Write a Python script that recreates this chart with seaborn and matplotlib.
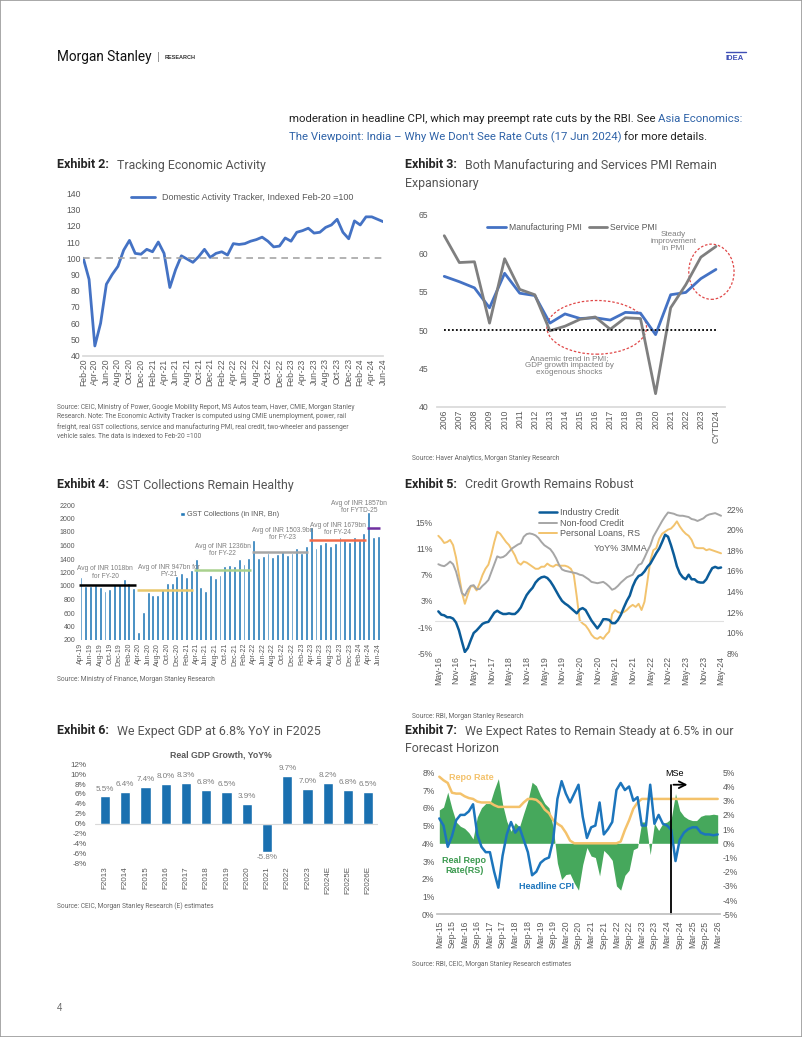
import numpy as np
import pandas as pd
import matplotlib
matplotlib.use("Agg")
import matplotlib.pyplot as plt
import seaborn as sns
from matplotlib.patches import Ellipse, Rectangle
from matplotlib.lines import Line2D

W, H = 802, 1037
GREY = "#595959"
LGREY = "#7F7F7F"

# ---------------- data ----------------
tracker = [100, 87, 46, 60, 84, 90, 95, 105, 111, 103,
           102.5, 105.5, 104, 110, 103, 82, 93, 101.5, 99.5, 97.5,
           101, 105.5, 100.5, 103, 104, 102, 109, 108.5, 109, 110.5,
           111.5, 113, 110.5, 107, 107.5, 112.5, 110.5, 116, 117, 118.5,
           115.5, 116, 119, 120.5, 124, 116, 112, 123, 120.5, 125.5,
           125.5, 124, 122.5]
tracker_months = pd.date_range("2020-02-01", periods=len(tracker), freq="MS").strftime("%b-%y")

pmi_years = ["2006", "2007", "2008", "2009", "2010", "2011", "2012", "2013", "2014", "2015",
             "2016", "2017", "2018", "2019", "2020", "2021", "2022", "2023", "CYTD24"]
mfg_pmi = [57.0, 56.3, 55.5, 52.9, 57.4, 54.8, 54.5, 50.9, 52.1, 51.5,
           51.6, 51.3, 52.3, 52.2, 49.4, 54.6, 54.9, 56.7, 57.9]
svc_pmi = [62.3, 58.8, 58.9, 50.9, 59.3, 55.3, 54.6, 49.9, 50.5, 51.4,
           51.7, 50.1, 51.6, 51.5, 41.7, 52.9, 55.9, 59.5, 60.9]

gst = [1130, 1000, 1000, 1020, 980, 920, 950, 1030, 1030, 1100, 1050, 975,
       320, 620, 910, 870, 865, 950, 1050, 1050, 1150, 1200, 1130, 1240,
       1395, 980, 925, 1165, 1120, 1170, 1300, 1315, 1295, 1405, 1330, 1420,
       1675, 1410, 1445, 1490, 1435, 1475, 1515, 1460, 1495, 1560, 1495, 1600,
       1870, 1570, 1615, 1650, 1590, 1630, 1720, 1680, 1650, 1725, 1680, 1780,
       2100, 1730, 1740]
gst_months = pd.date_range("2019-04-01", periods=len(gst), freq="MS").strftime("%b-%y")
fy_avg = [1018, 947, 1236, 1503.9, 1679, 1857]
fy_span = [(0, 11), (12, 23), (24, 35), (36, 47), (48, 59), (60, 62)]
fy_colors = ["#000000", "#E9C86C", "#A9D18E", "#A6A6A6", "#F26B4A", "#7030A0"]
fy_text = ["Avg of INR 1018bn\nfor FY-20", "Avg of INR 947bn for\nFY-21",
           "Avg of INR 1236bn\nfor FY-22", "Avg of INR 1503.9bn\nfor FY-23",
           "Avg of INR 1679bn\nfor FY-24", "Avg of INR 1857bn\nfor FYTD-25"]
fy_text_pos = [(5.0, 1200), (18.3, 1225), (29.6, 1535), (42.0, 1770), (53.5, 1845), (58.0, 2170)]

industry = [1.4, 0.9, 0.8, 0.5, 0.5, 0.3, -0.3, -1.5, -3.2, -4.8, -4.2, -3.0,
            -1.9, -1.5, -1.0, -0.5, -0.3, -0.2, 0.5, 1.2, 1.5, 1.2, 1.0, 1.0,
            1.1, 1.0, 1.0, 1.4, 2.0, 3.0, 3.9, 4.5, 5.0, 5.8, 6.3, 6.6,
            6.7, 6.5, 6.0, 5.3, 4.5, 3.7, 3.0, 2.6, 2.3, 1.9, 1.5, 1.1,
            1.7, 1.9, 1.6, 0.8, 0.0, -0.6, -1.2, -0.6, 0.2, 0.2, 0.1, -0.4,
            -0.4, 0.1, 0.9, 2.0, 3.0, 3.8, 5.2, 6.2, 6.8, 7.0, 7.5, 8.2,
            8.7, 9.5, 10.3, 11.0, 12.0, 13.1, 12.8, 11.5, 10.0, 8.3, 7.2, 6.6,
            6.3, 7.0, 6.3, 6.3, 5.9, 5.8, 5.8, 6.3, 7.2, 8.0, 8.2, 8.0,
            8.1]
nonfood = [8.6, 8.4, 8.3, 8.6, 9.0, 8.6, 7.5, 5.8, 4.2, 3.8, 4.7, 5.3,
           5.4, 4.8, 4.8, 5.3, 5.7, 6.2, 7.4, 8.6, 9.8, 9.6, 9.7, 10.0,
           10.5, 11.0, 11.3, 11.6, 11.8, 12.8, 13.2, 13.3, 13.2, 13.0, 12.6, 12.0,
           11.5, 11.2, 10.9, 10.3, 9.5, 8.5, 7.8, 7.6, 7.5, 7.4, 7.3, 7.2,
           7.0, 6.9, 6.6, 6.3, 5.9, 5.8, 5.7, 5.8, 5.9, 5.6, 5.2, 4.7,
           4.9, 5.3, 5.8, 6.2, 6.6, 6.8, 7.0, 7.8, 8.5, 8.7, 9.6, 10.6,
           11.5, 12.8, 13.6, 14.4, 15.2, 15.9, 16.5, 16.4, 16.3, 16.1, 16.0, 16.0,
           15.9, 15.8, 15.5, 15.4, 15.2, 15.4, 15.6, 16.0, 16.2, 16.3, 16.4, 16.2,
           16.0]
personal = [19.4, 19.1, 18.7, 18.8, 19.0, 18.5, 17.3, 15.6, 13.9, 12.8, 13.7, 14.5,
            14.5, 14.1, 14.8, 15.6, 16.2, 16.6, 17.6, 18.8, 19.8, 19.6, 19.2, 18.8,
            18.5, 18.0, 17.5, 16.8, 16.6, 16.9, 16.8, 16.6, 16.4, 16.2, 16.2, 16.4,
            16.4, 16.7, 16.5, 16.4, 16.6, 16.5, 16.5, 16.5, 16.4, 16.2, 15.6, 13.5,
            11.2, 10.9, 10.7, 10.3, 9.8, 9.5, 9.4, 9.6, 9.4, 9.8, 10.1, 11.8,
            12.2, 12.0, 11.9, 12.0, 12.2, 12.5, 12.7, 12.5, 12.8, 12.2, 13.0, 15.0,
            17.0, 18.0, 18.2, 19.1, 19.6, 19.8, 20.0, 20.1, 20.4, 20.8, 20.3, 19.9,
            19.6, 19.4, 19.0, 18.3, 18.2, 18.2, 18.2, 18.0, 18.1, 18.0, 17.9, 17.8,
            17.7]
credit_months = pd.date_range("2016-05-01", periods=len(industry), freq="MS").strftime("%b-%y")

gdp_years = ["F2013", "F2014", "F2015", "F2016", "F2017", "F2018", "F2019",
             "F2020", "F2021", "F2022", "F2023", "F2024E", "F2025E", "F2026E"]
gdp = [5.5, 6.4, 7.4, 8.0, 8.3, 6.8, 6.5, 3.9, -5.8, 9.7, 7.0, 8.2, 6.8, 6.5]

# bi-monthly from Mar-15 to Mar-26
cpi = [5.4, 5.0, 3.8, 4.4, 5.3, 5.6, 5.6, 5.8, 6.2, 4.5,
       3.8, 3.5, 3.5, 2.4, 1.5, 3.3, 4.5, 5.2, 4.6, 4.9,
       4.2, 3.5, 2.2, 2.4, 2.9, 3.1, 3.2, 4.2, 6.5, 7.5,
       6.8, 6.3, 6.8, 7.3, 5.5, 4.3, 4.9, 5.0, 6.3, 4.5,
       4.8, 5.2, 7.0, 7.4, 7.0, 7.2, 6.4, 6.6, 5.0, 5.0,
       7.3, 5.1, 5.6, 5.1, 5.0, 4.75, 3.0, 4.2, 4.6, 4.8,
       4.9, 4.9, 4.6, 4.5, 4.5, 4.45, 4.5]
repo = [7.75, 7.55, 7.4, 6.85, 6.8, 6.8, 6.65, 6.55, 6.5, 6.35,
        6.3, 6.3, 6.3, 6.15, 6.05, 6.05, 6.05, 6.05, 6.05, 6.05,
        6.3, 6.5, 6.5, 6.45, 6.25, 5.9, 5.7, 5.3, 5.1, 4.95,
        4.6, 4.15, 4.0, 4.0, 4.0, 4.0, 4.0, 4.0, 4.0, 4.0,
        4.0, 4.0, 4.0, 4.1, 4.75, 5.3, 5.95, 6.3, 6.5, 6.5,
        6.5, 6.5, 6.5, 6.5, 6.5, 6.5, 6.5, 6.5, 6.5, 6.5,
        6.5, 6.5, 6.5, 6.5, 6.5, 6.5, 6.5]
rate_months = pd.date_range("2015-03-01", "2026-03-01", freq="MS").strftime("%b-%y")
mse_month = 110  # May-24, start of forecasts

# ---------------- figure ----------------
sns.set_theme(style="white")
plt.rcParams["font.family"] = ["Liberation Sans", "DejaVu Sans"]
plt.rcParams["axes.unicode_minus"] = False
COND = ["Roboto", "DejaVu Sans"]

fig = plt.figure(figsize=(W / 100, H / 100), dpi=100)
fig.patch.set_facecolor("white")
renderer = fig.canvas.get_renderer()


def px_ax(x0, y0, x1, y1):
    return fig.add_axes([x0 / W, 1 - y1 / H, (x1 - x0) / W, (y1 - y0) / H])


def ftext(x, y, s, **kw):
    kw.setdefault("va", "center")
    return fig.text(x / W, 1 - y / H, s, **kw)


def seq_text(x, y, parts, **kw):
    # draw coloured pieces one after the other on the same line
    probe = ftext(0, 0, "a a", **kw)
    gap = probe.get_window_extent(renderer).width
    probe.set_text("aa")
    gap -= probe.get_window_extent(renderer).width
    probe.remove()
    for s, c in parts:
        t = ftext(x, y, s, color=c, **kw)
        x += t.get_window_extent(renderer).width + gap


def clean(ax, size=6.2):
    for s in ax.spines.values():
        s.set_visible(False)
    ax.tick_params(length=0, labelsize=size, colors=GREY, pad=2)
    ax.set_xlabel("")
    ax.set_ylabel("")
    ax.grid(False)


TITLE_KW = dict(family=COND, fontsize=8.9, color="#555555")


def title(x, y, num, text):
    ftext(x, y, f"Exhibit {num}:", family=COND, fontsize=9.0, weight="bold", color="#262626")
    ftext(x + 60, y, text, **TITLE_KW)


def source(x, y, lines, step=10.5):
    for i, ln in enumerate(lines):
        ftext(x, y + i * step, ln, family="Roboto", fontsize=4.8, color="#666666")


# header
fig.add_artist(Rectangle((0, 0), 1, 1, transform=fig.transFigure, fill=False, ec="#9A9A9A", lw=1.2))
ftext(57, 57, "Morgan Stanley", family=COND, fontsize=9.8, color="#111111")
ftext(157.5, 57, "|", fontsize=8, color="#888888")
ftext(165, 57.5, "RESEARCH", fontsize=4.0, weight="bold", color="#333333")
ftext(726, 58.5, "IDEA", fontsize=5.5, weight="bold", color="#3F4FB5")
fig.add_artist(Line2D([726 / W, 746 / W], [1 - 52 / H, 1 - 52 / H], color="#3F4FB5", lw=1))

BLUE_TXT = "#2F63A8"
BODY = dict(family=COND, fontsize=8.2)
seq_text(289, 119, [("moderation in headline CPI, which may preempt rate cuts by the RBI. See", "#222222"),
                    ("Asia Economics:", BLUE_TXT)], **BODY)
seq_text(289, 137, [("The Viewpoint: India \u2013 Why We Don't See Rate Cuts (17 Jun 2024)", BLUE_TXT),
                    ("for more details.", "#222222")], **BODY)

# ---------------- Exhibit 2 ----------------
title(57, 165, 2, "Tracking Economic Activity")
ax = px_ax(83.3, 193.3, 383.3, 355.7)
sns.lineplot(x=np.arange(len(tracker)), y=tracker, color="#4472C4", lw=2, ax=ax,
             label="Domestic Activity Tracker, Indexed Feb-20 =100")
ax.axhline(100, color="#A6A6A6", ls=(0, (4, 3)), lw=1.2)
clean(ax)
ax.spines["bottom"].set_visible(True)
ax.spines["bottom"].set_color("#D9D9D9")
ax.set_xlim(0, len(tracker) - 1)
ax.set_ylim(40, 140)
ax.set_yticks(range(40, 141, 10))
ax.set_xticks(range(0, len(tracker), 2))
ax.set_xticklabels(tracker_months[::2], rotation=90)
leg = ax.legend(loc="upper center", bbox_to_anchor=(0.53, 1.05), frameon=False, fontsize=6.5,
                handlelength=2.6)
for t in leg.get_texts():
    t.set_color(GREY)
source(57, 407, ["Source: CEIC, Ministry of Power, Google Mobility Report, MS Autos team, Haver, CMIE, Morgan Stanley",
                 "Research. Note: The Economic Activity Tracker is computed using CMIE unemployment, power, rail",
                 "freight, real GST collections, service and manufacturing PMI, real credit, two-wheeler and passenger",
                 "vehicle sales. The data is indexed to Feb-20 =100"], step=10)

# ---------------- Exhibit 3 ----------------
title(405, 165, 3, "Both Manufacturing and Services PMI Remain")
ftext(405, 183, "Expansionary", **TITLE_KW)
ax = px_ax(436.7, 215, 725, 406.7)
xp = np.arange(len(pmi_years))
sns.lineplot(x=xp, y=mfg_pmi, color="#4472C4", lw=2, ax=ax, label="Manufacturing PMI")
sns.lineplot(x=xp, y=svc_pmi, color="#7F7F7F", lw=2, ax=ax, label="Service PMI")
ax.hlines(50, 0, len(pmi_years) - 1, color="black", ls=(0, (1, 1.2)), lw=1.3)
clean(ax)
ax.spines["bottom"].set_visible(True)
ax.spines["bottom"].set_color("#D9D9D9")
ax.set_xlim(-0.5, len(pmi_years) - 0.4)
ax.set_ylim(40, 65)
ax.set_yticks(range(40, 66, 5))
ax.tick_params(axis="y", pad=6)
ax.set_xticks(xp)
ax.set_xticklabels(pmi_years, rotation=90)
leg = ax.legend(loc="upper center", bbox_to_anchor=(0.47, 1.0), ncol=2, frameon=False, fontsize=6.2,
                handlelength=2.2, columnspacing=0.8, handletextpad=0.3)
for t in leg.get_texts():
    t.set_color(GREY)
for (cx, cy, w, h) in [(10.1, 50.35, 6.6, 7.0), (17.7, 57.6, 3.0, 7.2)]:
    ax.add_patch(Ellipse((cx, cy), w, h, fill=False, ec="#E04848", ls=(0, (2, 1.5)), lw=0.9, clip_on=False))
ax.text(15.2, 61.5, "Steady\nimprovement\nin PMI", ha="center", va="center", fontsize=5.8, color=LGREY,
        linespacing=1.0)
ax.text(8.3, 45.4, "Anaemic trend in PMI;\nGDP growth impacted by\nexogenous shocks", ha="center",
        va="center", fontsize=5.8, color=LGREY, linespacing=1.0)
source(412, 459, ["Source: Haver Analytics, Morgan Stanley Research"])

# ---------------- Exhibit 4 ----------------
title(57, 485, 4, "GST Collections Remain Healthy")
ax = px_ax(78.1, 505, 381.2, 640)
sns.barplot(x=list(gst_months), y=gst, color="#2479B8", width=0.6, ax=ax, saturation=1,
            label="GST Collections (in INR, Bn)")
for avg, (a, b), c in zip(fy_avg, fy_span, fy_colors):
    ax.hlines(avg, a - 0.4, b + 0.4, color=c, lw=1.8)
for txt, (tx, ty) in zip(fy_text, fy_text_pos):
    ax.text(tx, ty, txt, ha="center", va="center", fontsize=4.8, color=LGREY, linespacing=1.0,
            clip_on=False)
clean(ax, 5.0)
ax.set_xlim(-0.6, len(gst) - 0.4)
ax.set_ylim(200, 2200)
ax.set_yticks(range(200, 2201, 200))
ax.set_xticks(range(0, len(gst), 2))
ax.set_xticklabels(gst_months[::2], rotation=90)
leg = ax.legend(loc="upper center", bbox_to_anchor=(0.5, 1.0), frameon=False, fontsize=5.2,
                handlelength=0.6, handleheight=0.6, handletextpad=0.3)
for t in leg.get_texts():
    t.set_color(GREY)
source(57, 679, ["Source: Ministry of Finance, Morgan Stanley Research"])

# ---------------- Exhibit 5 ----------------
title(405, 485, 5, "Credit Growth Remains Robust")
ax = px_ax(435.4, 509, 724, 653.3)
ax2 = ax.twinx()
xc = np.arange(len(industry))
sns.lineplot(x=xc, y=personal, color="#F2C36E", lw=1.4, ax=ax2, label="Personal Loans, RS")
sns.lineplot(x=xc, y=nonfood, color="#A6A6A6", lw=1.4, ax=ax, label="Non-food Credit")
sns.lineplot(x=xc, y=industry, color="#0B5C99", lw=1.8, ax=ax, label="Industry Credit")
ax.set_zorder(ax2.get_zorder() + 1)
ax.patch.set_visible(False)
ax.axhline(0, color="#E0E0E0", lw=0.8, zorder=0)
clean(ax)
clean(ax2)
ax.set_xlim(-1, len(industry))
ax.set_ylim(-5, 17.03)
ax.set_yticks([-5, -1, 3, 7, 11, 15])
ax.set_yticklabels([f"{v}%" for v in [-5, -1, 3, 7, 11, 15]])
ax2.set_ylim(8, 22)
ax2.set_yticks(range(8, 23, 2))
ax2.set_yticklabels([f"{v}%" for v in range(8, 23, 2)])
ax.set_xticks(range(0, len(industry), 6))
ax.set_xticklabels(credit_months[::6], rotation=90)
h1, l1 = ax.get_legend_handles_labels()
h2, l2 = ax2.get_legend_handles_labels()
ax2.get_legend().remove()
leg = ax.legend([h1[1], h1[0], h2[0]], [l1[1], l1[0], l2[0]], loc="upper left",
                bbox_to_anchor=(0.33, 1.06), frameon=False, fontsize=6.5, handlelength=2.0,
                handletextpad=0.3, labelspacing=0.15)
for t in leg.get_texts():
    t.set_color(GREY)
ax.text(61.7, 11.0, "YoY% 3MMA", ha="center", va="center", fontsize=6.5, color=GREY)
source(412, 716, ["Source: RBI, Morgan Stanley Research"])

# ---------------- Exhibit 6 ----------------
title(57, 731, 6, "We Expect GDP at 6.8% YoY in F2025")
ax = px_ax(94.9, 764.3, 378.4, 863.3)
sns.barplot(x=gdp_years, y=gdp, color="#1A70B0", width=0.5, ax=ax, saturation=1)
ax.axhline(0, color="#D9D9D9", lw=0.8)
for i, v in enumerate(gdp):
    ax.text(i, v + 1.5 if v > 0 else v - 1.1, f"{v:.1f}%", ha="center", va="center",
            fontsize=5.8, color=LGREY)
clean(ax, 5.8)
ax.set_xlim(-0.5, len(gdp) - 0.5)
ax.set_ylim(-8, 12)
ax.set_yticks(range(-8, 13, 2))
ax.set_yticklabels([f"{v}%" for v in range(-8, 13, 2)])
ax.tick_params(axis="y", pad=6)
ax.set_xticks(range(len(gdp)))
ax.set_xticklabels(gdp_years, rotation=90)
ftext(221, 755, "Real GDP Growth, YoY%", ha="center", fontsize=6.3, weight="bold", color="#595959")
source(57, 906, ["Source: CEIC, Morgan Stanley Research (E) estimates"])

# ---------------- Exhibit 7 ----------------
title(405, 731, 7, "We Expect Rates to Remain Steady at 6.5% in our")
ftext(405, 749, "Forecast Horizon", **TITLE_KW)
ax = px_ax(437.2, 772.3, 719.8, 914.3)
ax2 = ax.twinx()
xr = np.arange(0, len(rate_months), 2)
real_rate = np.array(repo) - np.array(cpi)
ax2.fill_between(xr, real_rate, 0, color="#46A85C", lw=0)
sns.lineplot(x=xr, y=repo, color="#F4C26B", lw=1.8, ax=ax)
sns.lineplot(x=xr, y=cpi, color="#1C75BC", lw=1.8, ax=ax)
ax.set_zorder(ax2.get_zorder() + 1)
ax.patch.set_visible(False)
clean(ax)
clean(ax2)
ax.spines["bottom"].set_visible(True)
ax.spines["bottom"].set_color("#BFBFBF")
ax.tick_params(axis="x", length=2.5, color="#BFBFBF", direction="out")
ax.set_xlim(-1, len(rate_months))
ax.set_ylim(0, 8)
ax.set_yticks(range(0, 9))
ax.set_yticklabels([f"{v}%" for v in range(0, 9)])
ax2.set_ylim(-5, 5)
ax2.set_yticks(range(-5, 6))
ax2.set_yticklabels([f"{v}%" for v in range(-5, 6)])
ax.set_xticks(range(0, len(rate_months), 6))
ax.set_xticklabels(rate_months[::6], rotation=90)
ax.plot([mse_month, mse_month], [0, 7.3], color="black", lw=1.3, clip_on=False)
ax.annotate("", xy=(mse_month + 9, 7.3), xytext=(mse_month - 0.3, 7.3),
            arrowprops=dict(arrowstyle="->", color="black", lw=1.3))
ax.text(mse_month + 1.5, 7.95, "MSe", ha="center", va="center", fontsize=6.5, color="black")
ax.text(15.3, 7.72, "Repo Rate", ha="center", va="center", fontsize=6.5, weight="bold", color="#F4C26B")
ax.text(11.8, 2.75, "Real Repo\nRate(RS)", ha="center", va="center", fontsize=6.5, weight="bold",
        color="#3C9A50", linespacing=1.1)
ax.text(51, 1.56, "Headline CPI", ha="center", va="center", fontsize=6.5, weight="bold", color="#1C75BC")
source(412, 965, ["Source: RBI, CEIC, Morgan Stanley Research estimates"])

ftext(57, 1008, "4", fontsize=7, color="#666666")

fig.savefig("out.png", dpi=100, facecolor="white")
